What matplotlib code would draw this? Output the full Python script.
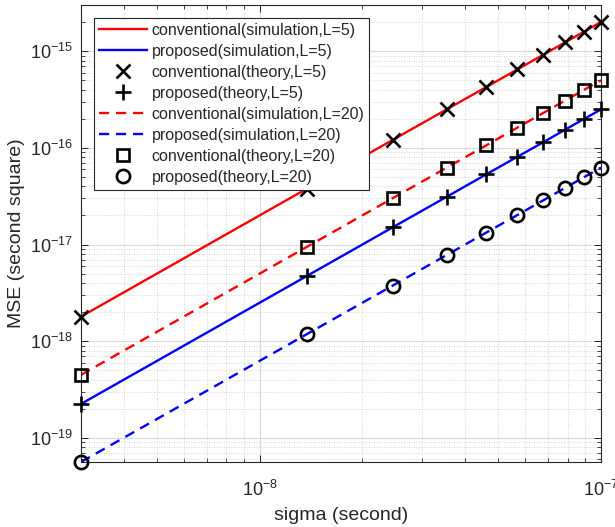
import matplotlib
matplotlib.use("Agg")
import matplotlib.pyplot as plt
from matplotlib.ticker import LogLocator, NullFormatter

plt.rcParams['font.family'] = ['Liberation Sans', 'DejaVu Sans']
plt.rcParams['mathtext.fontset'] = 'custom'
plt.rcParams['mathtext.rm'] = 'Liberation Sans'
plt.rcParams['mathtext.it'] = 'Liberation Sans'
plt.rcParams['mathtext.default'] = 'regular'

# sigma (second)
sigma = [3.0e-9, 1.378e-8, 2.456e-8, 3.533e-8, 4.611e-8, 5.689e-8, 6.767e-8, 7.844e-8, 8.922e-8, 1.0e-7]

# MSE values (second square)
conv_sim_L5 = [1.8e-18, 3.8e-17, 1.21e-16, 2.5e-16, 4.25e-16, 6.47e-16, 9.16e-16, 1.23e-15, 1.59e-15, 2.0e-15]
prop_sim_L5 = [2.25e-19, 4.75e-18, 1.51e-17, 3.12e-17, 5.32e-17, 8.09e-17, 1.14e-16, 1.54e-16, 1.99e-16, 2.5e-16]
conv_th_L5 = [1.8e-18, 3.8e-17, 1.21e-16, 2.5e-16, 4.25e-16, 6.47e-16, 9.16e-16, 1.23e-15, 1.59e-15, 2.0e-15]
prop_th_L5 = [2.25e-19, 4.75e-18, 1.51e-17, 3.12e-17, 5.32e-17, 8.09e-17, 1.14e-16, 1.54e-16, 1.99e-16, 2.5e-16]
conv_sim_L20 = [4.5e-19, 9.5e-18, 3.02e-17, 6.24e-17, 1.06e-16, 1.62e-16, 2.29e-16, 3.08e-16, 3.98e-16, 5.0e-16]
prop_sim_L20 = [5.65e-20, 1.19e-18, 3.77e-18, 7.8e-18, 1.33e-17, 2.02e-17, 2.86e-17, 3.85e-17, 4.98e-17, 6.25e-17]
conv_th_L20 = [4.5e-19, 9.5e-18, 3.02e-17, 6.24e-17, 1.06e-16, 1.62e-16, 2.29e-16, 3.08e-16, 3.98e-16, 5.0e-16]
prop_th_L20 = [5.65e-20, 1.19e-18, 3.77e-18, 7.8e-18, 1.33e-17, 2.02e-17, 2.86e-17, 3.85e-17, 4.98e-17, 6.25e-17]

labels = ['conventional(simulation,L=5)', 'proposed(simulation,L=5)',
          'conventional(theory,L=5)', 'proposed(theory,L=5)',
          'conventional(simulation,L=20)', 'proposed(simulation,L=20)',
          'conventional(theory,L=20)', 'proposed(theory,L=20)']

axc = '#262626'
fig = plt.figure(figsize=(6.15, 5.27), dpi=100)
ax = fig.add_axes([81/615, 1-462/527, 520/615, 457/527])
ax.set_xscale('log')
ax.set_yscale('log')

lw = 1.7
dash = (4.3, 2.9)
ms = 9.5
mew = 1.9
h = []
h += ax.plot(sigma, conv_sim_L5, '-', color='#ff0000', lw=lw, label=labels[0])
h += ax.plot(sigma, prop_sim_L5, '-', color='#0000ff', lw=lw, label=labels[1])
h += ax.plot(sigma, conv_th_L5, 'x', color='k', ms=ms, mew=mew, ls='none', label=labels[2], clip_on=False, zorder=3)
h += ax.plot(sigma, prop_th_L5, '+', color='k', ms=ms+2, mew=mew, ls='none', label=labels[3], clip_on=False, zorder=3)
h += ax.plot(sigma, conv_sim_L20, '--', color='#ff0000', lw=lw, dashes=dash, label=labels[4])
h += ax.plot(sigma, prop_sim_L20, '--', color='#0000ff', lw=lw, dashes=dash, label=labels[5])
h += ax.plot(sigma, conv_th_L20, 's', color='k', mfc='none', ms=ms-1.5, mew=mew, ls='none', label=labels[6], clip_on=False, zorder=3)
h += ax.plot(sigma, prop_th_L20, 'o', color='k', mfc='none', ms=ms, mew=mew, ls='none', label=labels[7], clip_on=False, zorder=3)

ax.set_xlim(3e-9, 1e-7)
ax.set_ylim(5.65e-20, 3e-15)

ax.xaxis.set_major_locator(LogLocator(base=10, numticks=20))
ax.yaxis.set_major_locator(LogLocator(base=10, numticks=20))
ax.xaxis.set_minor_locator(LogLocator(base=10, subs=range(2, 10), numticks=100))
ax.yaxis.set_minor_locator(LogLocator(base=10, subs=range(2, 10), numticks=100))
ax.xaxis.set_minor_formatter(NullFormatter())
ax.yaxis.set_minor_formatter(NullFormatter())

ax.grid(True, which='major', color='#dadada', lw=0.8, ls='-')
ax.grid(True, which='minor', color='#c8c8c8', lw=0.6, ls=(0, (1, 2)))
ax.set_axisbelow(True)

ax.tick_params(which='both', direction='in', top=True, right=True, colors=axc,
               labelsize=13, labelcolor=axc)
ax.tick_params(which='major', length=5, width=0.7)
ax.tick_params(which='minor', length=3, width=0.6)
ax.tick_params(axis='x', pad=13)
ax.tick_params(axis='y', pad=6)
for s in ax.spines.values():
    s.set_color(axc)
    s.set_linewidth(0.8)

ax.set_xlabel('sigma (second)', fontsize=14, color=axc, labelpad=5)
ax.set_ylabel('MSE (second square)', fontsize=14, color=axc, labelpad=3)

leg = ax.legend(handles=h, loc='upper left', bbox_to_anchor=(0.025, 0.972),
                fontsize=11.5, frameon=True, fancybox=False, framealpha=1,
                edgecolor=axc, handlelength=3.0, handletextpad=0.3,
                labelspacing=0.38, borderpad=0.3, borderaxespad=0)
leg.get_frame().set_linewidth(0.8)
for t in leg.get_texts():
    t.set_color(axc)

fig.savefig('out.png', dpi=100)
